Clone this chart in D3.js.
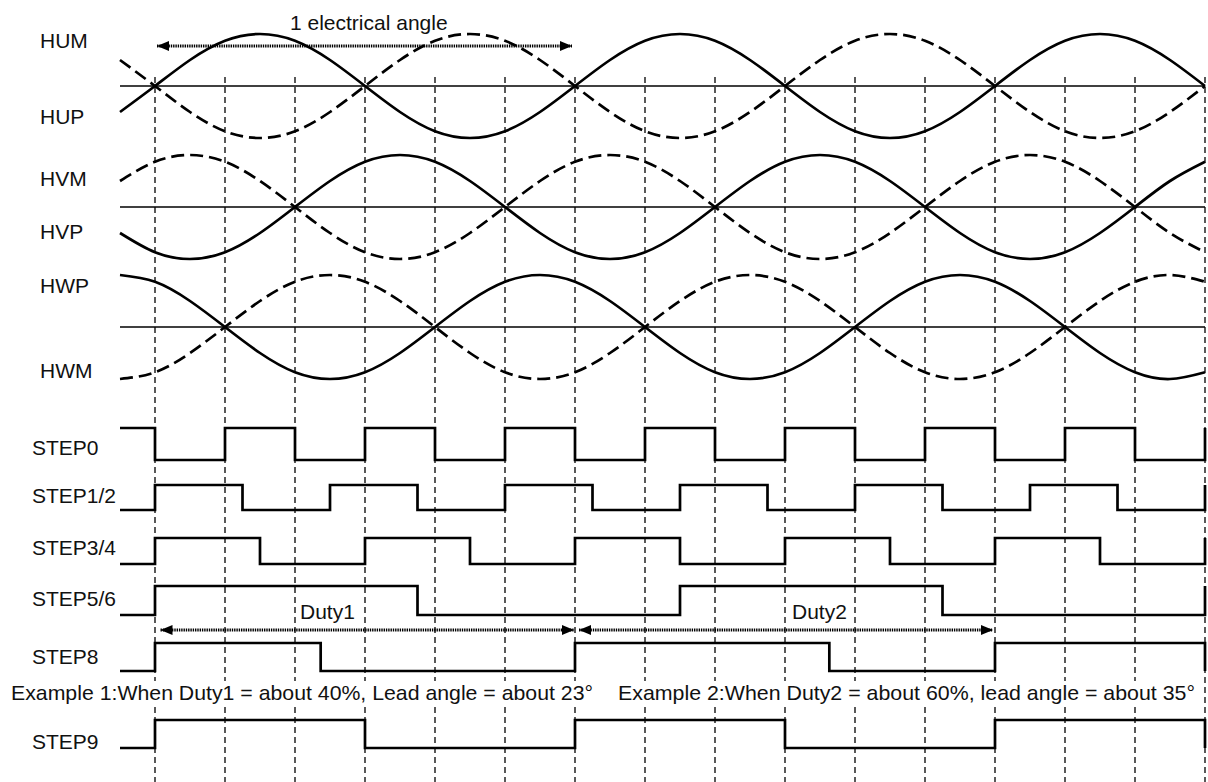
<!DOCTYPE html>
<html>
<head>
<meta charset="utf-8">
<script src="https://cdn.jsdelivr.net/npm/d3@7"></script>
<style>
  body { margin: 0; background: #fff; }
  svg { display: block; background: #fff; }
  text { font-family: "Liberation Sans", Arial, sans-serif; font-size: 21px; fill: #111; }
</style>
</head>
<body>
<svg id="chart" width="1208" height="782"></svg>
<script>
// ---------------- DATA ----------------
// electrical angle (degrees) of each sample of the hall signals
const angles = [-30, 0, 30, 60, 90, 120, 150, 180, 210, 240, 270, 300, 330, 360, 390, 420,
                450, 480, 510, 540, 570, 600, 630, 660, 690, 720, 750, 780, 810, 840, 870, 900];
// hall signal levels (normalised amplitude)
const hallUsolid  = [-0.5, 0, 0.5, 0.87, 1, 0.87, 0.5, 0, -0.5, -0.87, -1, -0.87, -0.5, 0, 0.5, 0.87,
                     1, 0.87, 0.5, 0, -0.5, -0.87, -1, -0.87, -0.5, 0, 0.5, 0.87, 1, 0.87, 0.5, 0];
const hallUdashed = [0.5, 0, -0.5, -0.87, -1, -0.87, -0.5, 0, 0.5, 0.87, 1, 0.87, 0.5, 0, -0.5, -0.87,
                     -1, -0.87, -0.5, 0, 0.5, 0.87, 1, 0.87, 0.5, 0, -0.5, -0.87, -1, -0.87, -0.5, 0];
const hallVsolid  = [-0.5, -0.87, -1, -0.87, -0.5, 0, 0.5, 0.87, 1, 0.87, 0.5, 0, -0.5, -0.87, -1, -0.87,
                     -0.5, 0, 0.5, 0.87, 1, 0.87, 0.5, 0, -0.5, -0.87, -1, -0.87, -0.5, 0, 0.5, 0.87];
const hallVdashed = [0.5, 0.87, 1, 0.87, 0.5, 0, -0.5, -0.87, -1, -0.87, -0.5, 0, 0.5, 0.87, 1, 0.87,
                     0.5, 0, -0.5, -0.87, -1, -0.87, -0.5, 0, 0.5, 0.87, 1, 0.87, 0.5, 0, -0.5, -0.87];
const hallWsolid  = [1, 0.87, 0.5, 0, -0.5, -0.87, -1, -0.87, -0.5, 0, 0.5, 0.87, 1, 0.87, 0.5, 0,
                     -0.5, -0.87, -1, -0.87, -0.5, 0, 0.5, 0.87, 1, 0.87, 0.5, 0, -0.5, -0.87, -1, -0.87];
const hallWdashed = [-1, -0.87, -0.5, 0, 0.5, 0.87, 1, 0.87, 0.5, 0, -0.5, -0.87, -1, -0.87, -0.5, 0,
                     0.5, 0.87, 1, 0.87, 0.5, 0, -0.5, -0.87, -1, -0.87, -0.5, 0, 0.5, 0.87, 1, 0.87];
const hallLabels = [["HUM", "HUP"], ["HVM", "HVP"], ["HWP", "HWM"]];

// vertical reference lines (electrical degrees)
const gridAngles = [0, 60, 120, 180, 240, 300, 360, 420, 480, 540, 600, 660, 720, 780, 840, 900];

// step signals: [angle, level] breakpoints (1 = high, 0 = low)
const stepNames = ["STEP0", "STEP1/2", "STEP3/4", "STEP5/6", "STEP8", "STEP9"];
const step0  = [[-30,1],[0,0],[60,1],[120,0],[180,1],[240,0],[300,1],[360,0],[420,1],[480,0],
                [540,1],[600,0],[660,1],[720,0],[780,1],[840,0],[900,1]];
const step12 = [[-30,0],[0,1],[75,0],[150,1],[225,0],[300,1],[375,0],[450,1],[525,0],[600,1],
                [675,0],[750,1],[825,0],[900,1]];
const step34 = [[-30,0],[0,1],[90,0],[180,1],[270,0],[360,1],[450,0],[540,1],[630,0],[720,1],
                [810,0],[900,1]];
const step56 = [[-30,0],[0,1],[225,0],[450,1],[675,0],[900,1]];
const step8  = [[-30,0],[0,1],[142,0],[360,1],[578,0],[720,1],[900,0]];
const step9  = [[-30,0],[0,1],[180,0],[360,1],[540,0],[720,1],[900,0]];

// spans (electrical degrees) and their captions
const spanLabels = ["1 electrical angle", "Duty1", "Duty2"];
const spanRanges = [[0, 360], [0, 360], [360, 720]];
const exampleNotes = ["Example 1:When Duty1 = about 40%, Lead angle = about 23°",
                      "Example 2:When Duty2 = about 60%, lead angle = about 35°"];

// ---------------- LAYOUT ----------------
const svg = d3.select("#chart");
const x = d3.scaleLinear().domain([-30, 900]).range([120, 1205]);

const panelLayout = [
  { cy: 86,  labelY: [48, 124] },
  { cy: 207, labelY: [186, 239] },
  { cy: 327, labelY: [293, 378] }
];
const amp = 52;
const stepLayout = [
  { hi: 428, lo: 460, ly: 455 },
  { hi: 485, lo: 510, ly: 503 },
  { hi: 538, lo: 564, ly: 555 },
  { hi: 586, lo: 615, ly: 606 },
  { hi: 643, lo: 671, ly: 664 },
  { hi: 720, lo: 748, ly: 749 }
];
const spanLayout = [
  { y: 46,  insL: 2, insR: 3, tx: 290, ty: 29.5 },
  { y: 630, insL: 5.5, insR: 1, tx: 300, ty: 619 },
  { y: 630, insL: 4, insR: 2, tx: 792, ty: 619 }
];

// arrow marker
const defs = svg.append("defs");
defs.append("marker")
  .attr("id", "ah").attr("viewBox", "0 0 12 10")
  .attr("refX", 12).attr("refY", 5)
  .attr("markerWidth", 12).attr("markerHeight", 10)
  .attr("markerUnits", "userSpaceOnUse")
  .attr("orient", "auto-start-reverse")
  .append("path").attr("d", "M0,0L12,5L0,10Z").attr("fill", "#000");

// vertical dashed grid lines
svg.append("g").selectAll("line").data(gridAngles).join("line")
  .attr("x1", d => x(d)).attr("x2", d => x(d))
  .attr("y1", 77).attr("y2", 782)
  .attr("stroke", "#000").attr("stroke-width", 1.3)
  .attr("stroke-dasharray", "6,4");

// hall panels
const panels = [
  { solid: hallUsolid, dashed: hallUdashed },
  { solid: hallVsolid, dashed: hallVdashed },
  { solid: hallWsolid, dashed: hallWdashed }
];
panels.forEach((p, i) => {
  const L = panelLayout[i];
  const y = d3.scaleLinear().domain([-1, 1]).range([L.cy + amp, L.cy - amp]);
  const g = svg.append("g");
  g.append("line")
    .attr("x1", x(-30)).attr("x2", x(900))
    .attr("y1", y(0)).attr("y2", y(0))
    .attr("stroke", "#000").attr("stroke-width", 1.3);
  const line = d3.line()
    .x((d, j) => x(angles[j]))
    .y(d => y(d))
    .curve(d3.curveNatural);
  g.append("path").attr("d", line(p.dashed))
    .attr("fill", "none").attr("stroke", "#000").attr("stroke-width", 2.7)
    .attr("stroke-dasharray", "13,6");
  g.append("path").attr("d", line(p.solid))
    .attr("fill", "none").attr("stroke", "#000").attr("stroke-width", 2.7);
  hallLabels[i].forEach((t, k) => {
    g.append("text").attr("x", 40).attr("y", L.labelY[k]).text(t);
  });
});

// step rows
const stepData = [step0, step12, step34, step56, step8, step9];
stepData.forEach((data, i) => {
  const L = stepLayout[i];
  const y = d3.scaleLinear().domain([0, 1]).range([L.lo, L.hi]);
  const line = d3.line().x(d => x(d[0])).y(d => y(d[1])).curve(d3.curveStepAfter);
  svg.append("path").attr("d", line(data))
    .attr("fill", "none").attr("stroke", "#000").attr("stroke-width", 2.7)
    .attr("stroke-linejoin", "miter");
  svg.append("text").attr("x", 32).attr("y", L.ly).text(stepNames[i]);
});

// span arrows with captions
spanRanges.forEach((r, i) => {
  const L = spanLayout[i];
  svg.append("line")
    .attr("x1", x(r[0]) + L.insL).attr("x2", x(r[1]) - L.insR)
    .attr("y1", L.y).attr("y2", L.y)
    .attr("stroke", "#000").attr("stroke-width", 2.8)
    .attr("stroke-dasharray", "1.4,0.9")
    .attr("marker-start", "url(#ah)").attr("marker-end", "url(#ah)");
  svg.append("text").attr("x", L.tx).attr("y", L.ty).text(spanLabels[i]);
});

// example notes (white background hides grid lines)
const notePos = [{ x: 11, y: 700, w: 582 }, { x: 618, y: 700, w: 577 }];
exampleNotes.forEach((t, i) => {
  const g = svg.append("g");
  const rect = g.append("rect").attr("fill", "#fff");
  const txt = g.append("text").attr("x", notePos[i].x).attr("y", notePos[i].y)
    .attr("textLength", notePos[i].w).attr("lengthAdjust", "spacingAndGlyphs")
    .text(t);
  const bb = txt.node().getBBox();
  rect.attr("x", bb.x - 2).attr("y", bb.y).attr("width", bb.width + 4).attr("height", bb.height);
});
</script>
</body>
</html>
